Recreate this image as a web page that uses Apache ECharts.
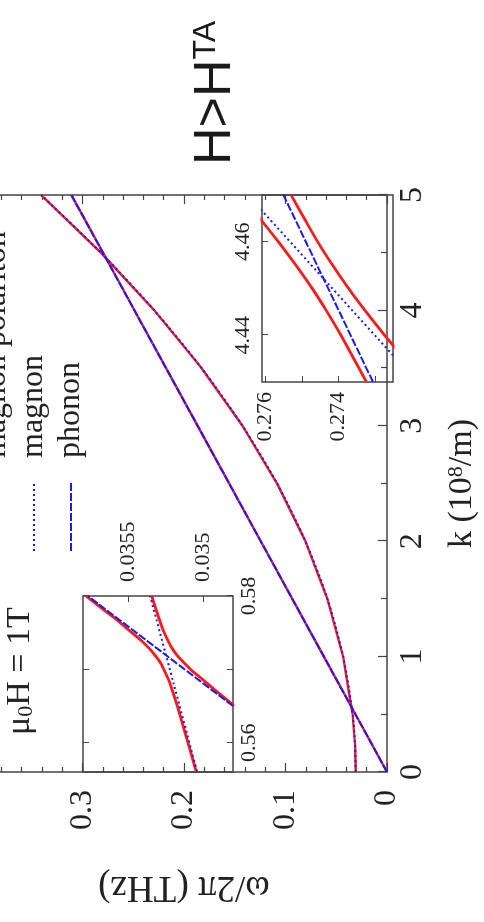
<!DOCTYPE html>
<html>
<head>
<meta charset="utf-8">
<script src="https://cdn.jsdelivr.net/npm/echarts@6/dist/echarts.min.js"></script>
<style>
  html, body { margin: 0; padding: 0; width: 484px; height: 922px; overflow: hidden; background: #fff; }
  /* the figure is laid out landscape and turned a quarter turn counter-clockwise */
  #chart {
    position: absolute; left: 0; top: 0;
    width: 922px; height: 519px;
    transform-origin: 0 0;
    transform: translate(-35px, 922px) rotate(-90deg);
    background: #fff;
  }
</style>
</head>
<body>
<div id="chart"></div>
<script>
// ---- main panel: dispersion, k in 10^8/m, omega/2pi in THz ----
const kMagnon = [0, 0.25, 0.5, 1, 1.5, 2, 2.5, 3, 3.5, 4, 4.5, 5];
const wMagnon = [0.0308, 0.0316, 0.0339, 0.0432, 0.0587, 0.0804, 0.1083, 0.1424, 0.1827, 0.2292, 0.2819, 0.3408];
const kPhonon = [0, 5];
const wPhonon = [0, 0.311];
const kPolLower = [0, 0.567, 1, 1.5, 2, 2.5, 3, 3.5, 4, 4.45, 5];
const wPolLower = [0, 0.0352, 0.0432, 0.0587, 0.0804, 0.1083, 0.1424, 0.1827, 0.2292, 0.2766, 0.311];
const kPolUpper = [0, 0.25, 0.5, 0.567, 1, 2, 3, 4, 4.45, 4.5, 5];
const wPolUpper = [0.0308, 0.0316, 0.0339, 0.0352, 0.0622, 0.1244, 0.1866, 0.2488, 0.2766, 0.2819, 0.3408];

// ---- inset near the first crossing ----
const kIn1Phonon = [0.565, 0.58];
const wIn1Phonon = [0.0348, 0.035767];
const kIn1Magnon = [0.5561, 0.568, 0.58];
const wIn1Magnon = [0.03504, 0.035195, 0.035353];
const kIn1Upper = [0.5562, 0.5605, 0.565, 0.5673, 0.5687, 0.57, 0.571, 0.5719, 0.573, 0.5741, 0.5754, 0.5768, 0.5781, 0.58];
const wIn1Upper = [0.035048, 0.035107, 0.035171, 0.035207, 0.035232, 0.035261, 0.035287, 0.035319, 0.035365, 0.035421, 0.035497, 0.035577, 0.035661, 0.035779];
const kIn1Lower = [0.565, 0.5673, 0.5687, 0.57, 0.571, 0.5719, 0.573, 0.5741, 0.5754, 0.5768, 0.5781, 0.58];
const wIn1Lower = [0.03479, 0.034927, 0.035008, 0.035083, 0.035131, 0.035172, 0.03521, 0.035238, 0.035267, 0.035291, 0.035313, 0.035341];

// ---- inset near the second crossing ----
const kIn2Phonon = [4.43, 4.47];
const wIn2Phonon = [0.27305, 0.27551];
const kIn2Magnon = [4.4357, 4.4675];
const wIn2Magnon = [0.2725, 0.2762];
const kIn2Upper = [4.43, 4.435, 4.44, 4.445, 4.45, 4.455, 4.46, 4.465, 4.467];
const wIn2Upper = [0.27323, 0.27358, 0.27393, 0.27431, 0.27472, 0.27517, 0.27565, 0.27616, 0.27637];
const kIn2Lower = [4.436, 4.44, 4.445, 4.45, 4.455, 4.46, 4.465, 4.47];
const wIn2Lower = [0.2723, 0.27273, 0.27324, 0.27372, 0.27416, 0.27457, 0.27494, 0.2753];

// tick labels
const kTickLabelsIn1 = [0.56, 0.58];
const kTicksIn1 = [0.56, 0.57, 0.58];
const wTickLabelsIn1 = [0.035, 0.0355];
const kTickLabelsIn2 = [4.44, 4.46];
const wTicksIn2 = [0.273, 0.274, 0.275, 0.276];
const wTickLabelsIn2 = [0.274, 0.276];

const pairs = (xs, ys) => xs.map((x, i) => [x, ys[i]]);

const RED = '#ff1a1a';
const BLUE = '#1a1aff';
const FRAME = '#444';
const SERIF = '"Liberation Serif", "DejaVu Serif", serif';
const SANS = '"Liberation Sans", Arial, sans-serif';

const polStyle = { color: RED, width: 2.4, type: 'solid' };
const polInsetStyle = { color: RED, width: 2.8, type: 'solid' };
const magStyle = { color: BLUE, width: 2, type: [2, 3] };
const phoStyle = { color: BLUE, width: 2, type: [8, 2] };

function line(name, data, xi, yi, style, z, smooth) {
  return {
    type: 'line', name, data, xAxisIndex: xi, yAxisIndex: yi,
    showSymbol: false, symbol: 'none', smooth: smooth || false,
    lineStyle: style, itemStyle: { color: style.color }, z, animation: false, clip: true
  };
}

const tickFont = { fontFamily: SERIF, fontSize: 32, color: '#222' };
const insetFont = { fontFamily: SERIF, fontSize: 22, color: '#222' };

const option = {
  backgroundColor: '#fff',
  animation: false,
  grid: [
    { left: 150, right: 195, top: 0, bottom: 91, show: true, borderColor: FRAME, borderWidth: 1.5, backgroundColor: 'transparent' },
    { left: 150, width: 176, top: 118, height: 150, show: true, borderColor: FRAME, borderWidth: 1.5, backgroundColor: 'transparent' },
    { left: 540, width: 187, top: 297, height: 131, show: true, borderColor: FRAME, borderWidth: 1.5, backgroundColor: 'transparent' }
  ],
  xAxis: [
    {
      gridIndex: 0, type: 'value', min: 0, max: 5, interval: 1, position: 'bottom',
      axisLine: { show: false },
      axisTick: { inside: true, length: 9, lineStyle: { color: FRAME, width: 1.2 } },
      minorTick: { show: true, splitNumber: 2, length: 6, lineStyle: { color: FRAME, width: 1.2 } },
      splitLine: { show: false },
      axisLabel: Object.assign({ margin: 10 }, tickFont),
      name: 'k (10{sup|8}/m)', nameLocation: 'middle', nameGap: 58,
      nameTextStyle: { fontFamily: SERIF, fontSize: 34, color: '#222',
        rich: { sup: { fontFamily: SERIF, fontSize: 22, verticalAlign: 'top', color: '#222' } } }
    },
    {
      gridIndex: 1, type: 'value', min: 0.556, max: 0.58, position: 'bottom',
      axisLine: { show: false },
      axisTick: { inside: true, length: 6, customValues: kTicksIn1, lineStyle: { color: FRAME } },
      splitLine: { show: false },
      axisLabel: Object.assign({ margin: 5, customValues: kTickLabelsIn1, showMaxLabel: true }, insetFont)
    },
    {
      gridIndex: 1, type: 'value', min: 0.556, max: 0.58, position: 'top',
      axisLine: { show: false },
      axisTick: { inside: true, length: 6, customValues: kTicksIn1, lineStyle: { color: FRAME } },
      splitLine: { show: false }, axisLabel: { show: false }
    },
    {
      gridIndex: 2, type: 'value', min: 4.43, max: 4.47, position: 'top',
      axisLine: { show: false },
      axisTick: { inside: true, length: 6, customValues: kTickLabelsIn2, lineStyle: { color: FRAME } },
      splitLine: { show: false },
      axisLabel: Object.assign({ margin: 8, customValues: kTickLabelsIn2 }, insetFont)
    }
  ],
  yAxis: [
    {
      gridIndex: 0, type: 'value', min: 0, max: 0.4, interval: 0.1, position: 'left',
      axisLine: { show: false },
      axisTick: { inside: true, length: 9, lineStyle: { color: FRAME, width: 1.2 } },
      minorTick: { show: true, splitNumber: 5, length: 5, lineStyle: { color: FRAME, width: 1.2 } },
      splitLine: { show: false },
      axisLabel: Object.assign({ margin: 18 }, tickFont),
      name: 'ω/2π (THz)', nameLocation: 'middle', nameGap: 96,
      nameTextStyle: { fontFamily: SERIF, fontSize: 37, color: '#222' }
    },
    {
      gridIndex: 0, type: 'value', min: 0, max: 0.4, interval: 0.1, position: 'right',
      axisLine: { show: false },
      axisTick: { inside: true, length: 9, lineStyle: { color: FRAME, width: 1.2 } },
      minorTick: { show: true, splitNumber: 5, length: 5, lineStyle: { color: FRAME, width: 1.2 } },
      splitLine: { show: false }, axisLabel: { show: false }
    },
    {
      gridIndex: 1, type: 'value', min: 0.0348, max: 0.0358, position: 'right',
      axisLine: { show: false },
      axisTick: { inside: true, length: 6, customValues: wTickLabelsIn1, lineStyle: { color: FRAME } },
      splitLine: { show: false },
      axisLabel: Object.assign({ margin: 14, customValues: wTickLabelsIn1 }, insetFont)
    },
    {
      gridIndex: 2, type: 'value', min: 0.2725, max: 0.2761, position: 'left',
      axisLine: { show: false },
      axisTick: { inside: true, length: 6, customValues: wTicksIn2, lineStyle: { color: FRAME } },
      splitLine: { show: false },
      axisLabel: Object.assign({ margin: 10, customValues: wTickLabelsIn2 }, insetFont)
    }
  ],
  legend: {
    orient: 'vertical', left: 365, top: 10, itemWidth: 70, itemHeight: 12, itemGap: 3,
    data: ['magnon polariton', 'magnon', 'phonon'],
    itemStyle: { color: 'transparent', borderColor: 'transparent', borderWidth: 0 },
    textStyle: { fontFamily: SERIF, fontSize: 32, lineHeight: 34, color: '#222', padding: [0, 0, 0, 18] }
  },
  graphic: [
    {
      type: 'text', x: 757, y: 251,
      style: {
        text: 'H>H{sup|TA}', fontFamily: SANS, fontSize: 52,
        fill: '#1a1a1a', verticalAlign: 'middle', align: 'left',
        rich: { sup: { fontFamily: SANS, fontSize: 32, verticalAlign: 'top', fill: '#1a1a1a' } }
      }
    },
    {
      type: 'text', x: 187, y: 55,
      style: {
        text: 'μ{sub|0}H = 1T', fontFamily: SERIF, fontSize: 34, fill: '#222',
        verticalAlign: 'middle', align: 'left',
        rich: { sub: { fontFamily: SERIF, fontSize: 22, verticalAlign: 'bottom', fill: '#222' } }
      }
    }
  ],
  series: [
    // main panel
    line('magnon polariton', pairs(kPolLower, wPolLower), 0, 0, polStyle, 2),
    line('magnon polariton', pairs(kPolUpper, wPolUpper), 0, 0, polStyle, 2),
    line('magnon', pairs(kMagnon, wMagnon), 0, 0, magStyle, 3, 0.3),
    line('phonon', pairs(kPhonon, wPhonon), 0, 0, phoStyle, 3),
    // first inset
    line('magnon polariton', pairs(kIn1Upper, wIn1Upper), 1, 2, polInsetStyle, 2, 0.3),
    line('magnon polariton', pairs(kIn1Lower, wIn1Lower), 1, 2, polInsetStyle, 2, 0.3),
    line('magnon', pairs(kIn1Magnon, wIn1Magnon), 1, 2, magStyle, 3, 0.3),
    line('phonon', pairs(kIn1Phonon, wIn1Phonon), 1, 2, phoStyle, 3),
    // second inset
    line('magnon polariton', pairs(kIn2Upper, wIn2Upper), 3, 3, polInsetStyle, 2, 0.3),
    line('magnon polariton', pairs(kIn2Lower, wIn2Lower), 3, 3, polInsetStyle, 2, 0.3),
    line('magnon', pairs(kIn2Magnon, wIn2Magnon), 3, 3, magStyle, 3),
    line('phonon', pairs(kIn2Phonon, wIn2Phonon), 3, 3, phoStyle, 3)
  ]
};

const chart = echarts.init(document.getElementById('chart'), null, { renderer: 'canvas' });
chart.setOption(option);
</script>
</body>
</html>
